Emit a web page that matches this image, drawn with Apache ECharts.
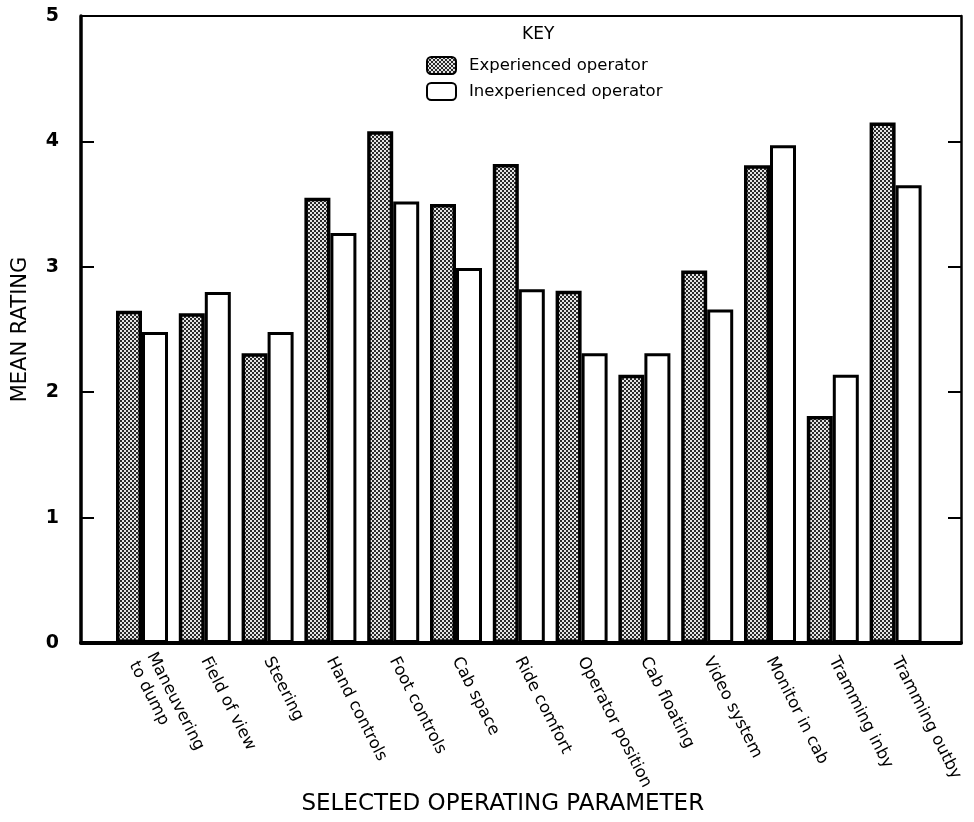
<!DOCTYPE html>
<html>
<head>
<meta charset="utf-8">
<script src="https://cdn.jsdelivr.net/npm/echarts@6/dist/echarts.min.js"></script>
<style>
html,body{margin:0;padding:0;background:#fff;}
#chart{width:974px;height:822px;}
</style>
</head>
<body>
<div id="chart"></div>
<script>
const categories = ['Maneuvering\nto dump','Field of view','Steering','Hand controls','Foot controls','Cab space','Ride comfort','Operator position','Cab floating','Video system','Monitor in cab','Tramming inby','Tramming outby'];
const experienced = [2.65, 2.63, 2.31, 3.55, 4.08, 3.50, 3.82, 2.81, 2.14, 2.97, 3.81, 1.81, 4.15];
const inexperienced = [2.48, 2.80, 2.48, 3.27, 3.52, 2.99, 2.82, 2.31, 2.31, 2.66, 3.97, 2.14, 3.65];
const yTicks = [0, 1, 2, 3, 4, 5];

// checker pattern for the shaded bars
const pc = document.createElement('canvas');
pc.width = 4; pc.height = 4;
const pctx = pc.getContext('2d');
pctx.fillStyle = '#e4e4e4'; pctx.fillRect(0,0,4,4);
pctx.fillStyle = '#2a2a2a'; pctx.fillRect(0,0,2,2); pctx.fillRect(2,2,2,2);
const pattern = {image: pc, repeat: 'repeat'};

const FONT = 'DejaVu Sans';
const chart = echarts.init(document.getElementById('chart'), null, {renderer:'canvas'});
chart.setOption({
  backgroundColor: '#fff',
  animation: false,
  title: {
    text: 'KEY', left: 522, top: 26, padding: 0,
    textStyle: {fontSize: 17, fontWeight: 'normal', color: '#000', fontFamily: FONT}
  },
  legend: {
    orient: 'vertical', left: 426, top: 56, padding: 0,
    itemWidth: 29, itemHeight: 17, itemGap: 7,
    textStyle: {fontSize: 16.5, color: '#000', fontFamily: FONT, padding: [0,0,0,8]},
    data: ['Experienced operator', 'Inexperienced operator']
  },
  grid: [
    {left: 81, right: 13, top: 16, bottom: 179, containLabel: false, outerBoundsMode: 'none'},
    {left: 110.6, right: 47, top: 16, bottom: 179, containLabel: false, outerBoundsMode: 'none'}
  ],
  xAxis: [
    {gridIndex: 0, type: 'value', min: 0, max: 1, position: 'bottom',
     axisLine: {show: true, onZero: false, lineStyle: {color: '#000', width: 4}},
     axisTick: {show: false}, axisLabel: {show: false}, splitLine: {show: false}},
    {gridIndex: 0, type: 'value', min: 0, max: 1, position: 'top',
     axisLine: {show: true, onZero: false, lineStyle: {color: '#000', width: 2}},
     axisTick: {show: false}, axisLabel: {show: false}, splitLine: {show: false}},
    {gridIndex: 1, type: 'category', data: categories, position: 'bottom',
     axisLine: {show: false}, axisTick: {show: false}, splitLine: {show: false},
     axisLabel: {interval: 0, rotate: -63, margin: 15, fontSize: 16.5, color: '#000', fontFamily: FONT, lineHeight: 20},
     name: 'SELECTED OPERATING PARAMETER', nameLocation: 'middle', nameGap: 150, nameMoveOverlap: false,
     nameTextStyle: {fontSize: 23, color: '#000', fontFamily: FONT, padding: [0, 32, 0, 0]}}
  ],
  yAxis: [
    {gridIndex: 0, type: 'value', min: 0, max: 5, interval: 1, position: 'left',
     axisLine: {show: true, onZero: false, lineStyle: {color: '#000', width: 3.5}},
     axisTick: {show: true, inside: true, length: 13, lineStyle: {color: '#000', width: 2}},
     axisLabel: {margin: 22, fontSize: 19, fontWeight: 'bold', color: '#000', fontFamily: FONT,
                 formatter: v => yTicks.includes(v) ? String(v) : ''},
     splitLine: {show: false},
     name: 'MEAN RATING', nameLocation: 'middle', nameGap: 50, nameMoveOverlap: false,
     nameTextStyle: {fontSize: 21, color: '#000', fontFamily: FONT}},
    {gridIndex: 0, type: 'value', min: 0, max: 5, interval: 1, position: 'right',
     axisLine: {show: true, onZero: false, lineStyle: {color: '#000', width: 2.5}},
     axisTick: {show: true, inside: true, length: 13, lineStyle: {color: '#000', width: 2}},
     axisLabel: {show: false}, splitLine: {show: false}},
    {gridIndex: 1, type: 'value', min: 0, max: 5, show: false, splitLine: {show: false}}
  ],
  series: [
    {name: 'Experienced operator', type: 'bar', xAxisIndex: 2, yAxisIndex: 2,
     data: experienced, barWidth: 26, barGap: '0%',
     itemStyle: {color: pattern, borderColor: '#000', borderWidth: 3.5}},
    {name: 'Inexperienced operator', type: 'bar', xAxisIndex: 2, yAxisIndex: 2,
     data: inexperienced, barWidth: 26, barGap: '0%',
     itemStyle: {color: '#fff', borderColor: '#000', borderWidth: 3}}
  ]
});
</script>
</body>
</html>
